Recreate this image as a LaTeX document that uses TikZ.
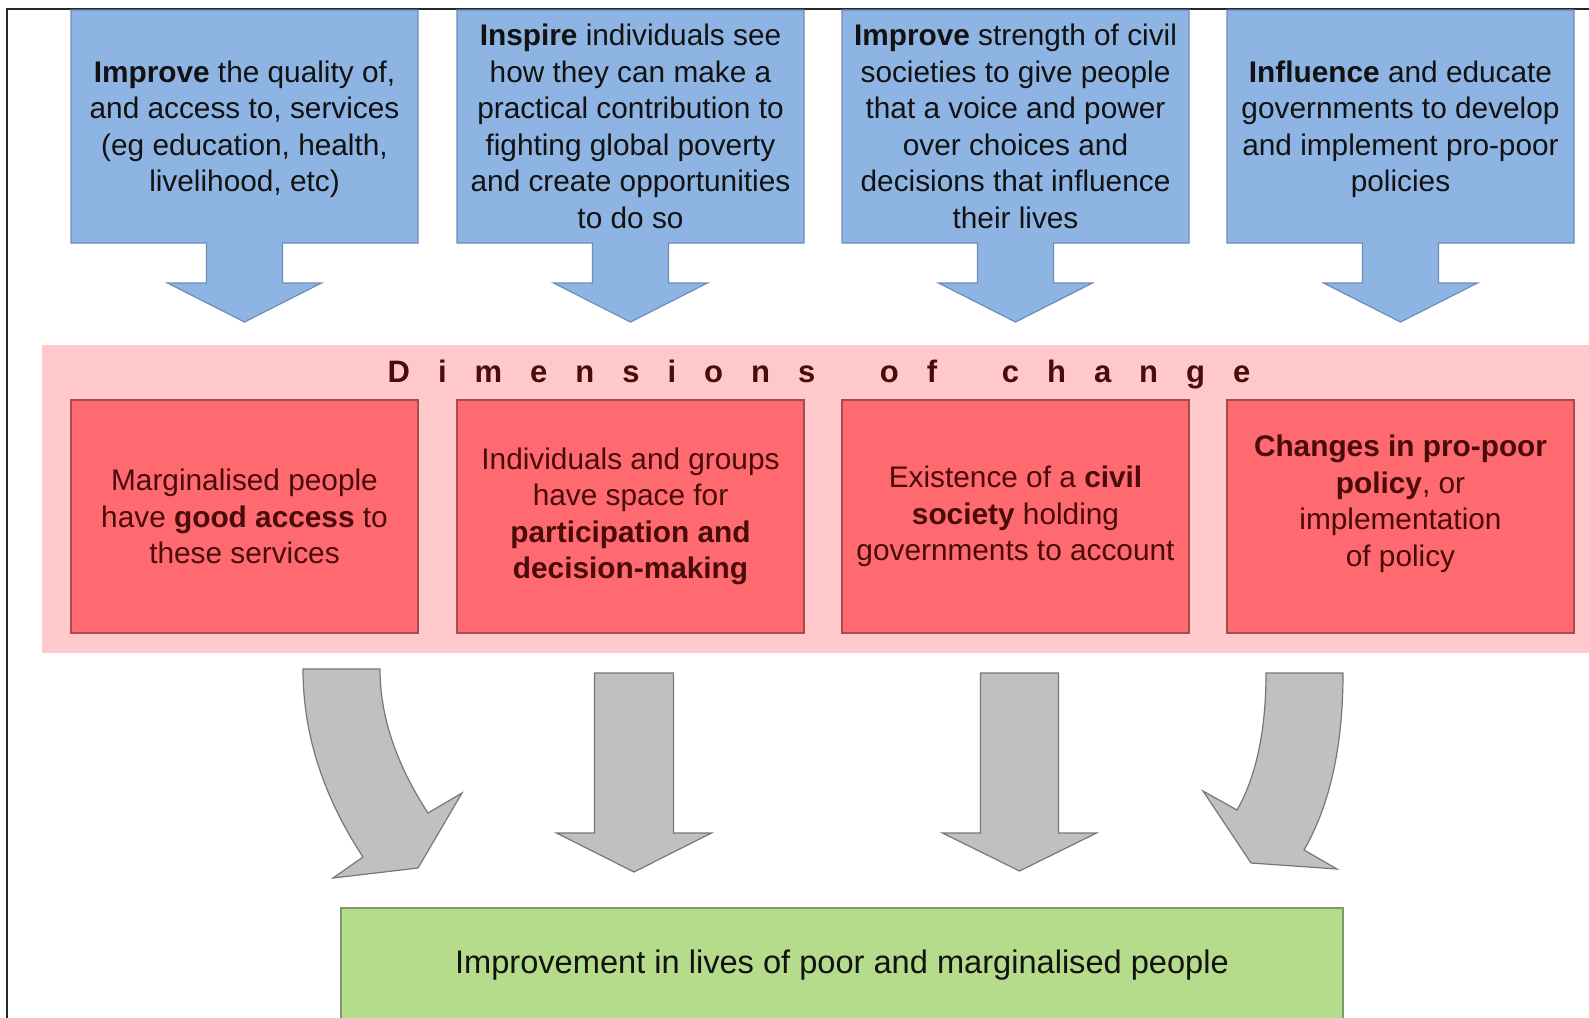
\documentclass[tikz,border=0pt]{standalone}
\usepackage{fontspec}
\setmainfont{Liberation Sans}
\usetikzlibrary{calc}
\definecolor{bluefill}{HTML}{8EB4E3}
\definecolor{blueline}{HTML}{6F8DB8}
\definecolor{redfill}{HTML}{FE6A6F}
\definecolor{redline}{HTML}{A64B4E}
\definecolor{pinkband}{HTML}{FFC8CB}
\definecolor{maroon}{HTML}{4A0B0B}
\definecolor{grayfill}{HTML}{C0C0C0}
\definecolor{grayline}{HTML}{777777}
\definecolor{greenfill}{HTML}{B5DC8A}
\definecolor{greenline}{HTML}{7E9A6A}
\newcommand\dimls{\kern28pt}
\begin{document}
\begin{tikzpicture}[x=1pt,y=-1pt,
  txt/.style={align=center, font=\fontsize{29.8}{36.5}\selectfont, inner sep=0pt},
  bluetxt/.style={txt, text=black!93},
  callout/.style={fill=bluefill, draw=blueline, line width=1.2pt, line join=miter},
  redbox/.style={txt, text=maroon, fill=redfill, draw=redline, line width=1.2pt,
                 minimum width=347pt, minimum height=233pt},
  grayarrow/.style={fill=grayfill, draw=grayline, line width=1.2pt, line join=miter},
  greenbox/.style={fill=greenfill, draw=greenline, line width=1.5pt,
                   minimum width=1002pt, minimum height=114pt, inner sep=0pt,
                   font=\fontsize{32.6}{38}\selectfont, text=black!93}]
\useasboundingbox (0,0) rectangle (1589,1017);
\fill[white] (0,0) rectangle (1589,1017);

% frame lines
\draw[black!85, line width=1.8pt] (7,1020) -- (7,9) -- (1592,9);

% blue callouts
\foreach \c in {244.5,630.5,1015.5,1400.5}{
  \draw[callout] (\c-173.5,10) -- (\c+173.5,10) -- (\c+173.5,243) -- (\c+38,243)
    -- (\c+38,283) -- (\c+77,283) -- (\c,322) -- (\c-77,283) -- (\c-38,283)
    -- (\c-38,243) -- (\c-173.5,243) -- cycle;
}
\node[bluetxt] (b1) at (244.5,129.5) {\textbf{Improve} the quality of,\\and access to, services\\(eg education, health,\\livelihood, etc)};
\node[bluetxt] (b2) at (630.5,126.5) {\textbf{Inspire} individuals see\\how they can make a\\practical contribution to\\fighting global poverty\\and create opportunities\\to do so};
\node[bluetxt] (b3) at (1015.5,126.5) {\textbf{Improve} strength of civil\\societies to give people\\that a voice and power\\over choices and\\decisions that influence\\their lives};
\node[bluetxt] (b4) at (1400.5,129.5) {\textbf{Influence} and educate\\governments to develop\\and implement pro-poor\\policies};

% dimensions band
\fill[pinkband] (42,345) rectangle (1595,653);
\node[font=\fontsize{31}{36}\selectfont\bfseries, text=maroon, anchor=base, inner sep=0pt] (dimtitle) at (819,382)
  {D\dimls i\dimls m\dimls e\dimls n\dimls s\dimls i\dimls o\dimls n\dimls s\dimls\ \dimls o\dimls f\dimls\ \dimls c\dimls h\dimls a\dimls n\dimls g\dimls e};

\node[redbox] (r1) at (244.5,516.5) {Marginalised people\\have \textbf{good access} to\\these services};
\node[redbox] (r2) at (630.5,516.5) {Individuals and groups\\have space for\\\textbf{participation and}\\\textbf{decision-making}};
\node[redbox] (r3) at (1015.5,516.5) {Existence of a \textbf{civil}\\\textbf{society} holding\\governments to account};
\node[redbox] (r4) at (1400.5,516.5) {};
\node[txt, text=maroon] (r4text) at (1400.5,504) {\textbf{Changes in pro-poor}\\\textbf{policy}, or\\implementation\\of policy};

% gray arrows
\draw[grayarrow] (303,669) -- (380,669) .. controls (380,716) and (396,764) .. (428,813)
  -- (462,793) -- (418,868) -- (333,878) -- (363,857)
  .. controls (323,796) and (303,734) .. (303,669) -- cycle;
\draw[grayarrow] (594.5,673) -- (673.5,673) -- (673.5,833) -- (711.5,833) -- (634,872)
  -- (556.5,833) -- (594.5,833) -- cycle;
\draw[grayarrow] (980.5,673) -- (1058.5,673) -- (1058.5,833) -- (1096.5,833) -- (1019.5,871)
  -- (942.5,833) -- (980.5,833) -- cycle;
\draw[grayarrow] (1266,673) -- (1343,673) .. controls (1343,746) and (1330,805) .. (1304,850)
  -- (1337,869) -- (1251,863) -- (1203,791) -- (1237,810)
  .. controls (1256,777) and (1266,731) .. (1266,673) -- cycle;

% outcome
\node[greenbox] (g) at (842,965) {\raisebox{-2pt}{Improvement in lives of poor and marginalised people}};
\end{tikzpicture}
\end{document}
